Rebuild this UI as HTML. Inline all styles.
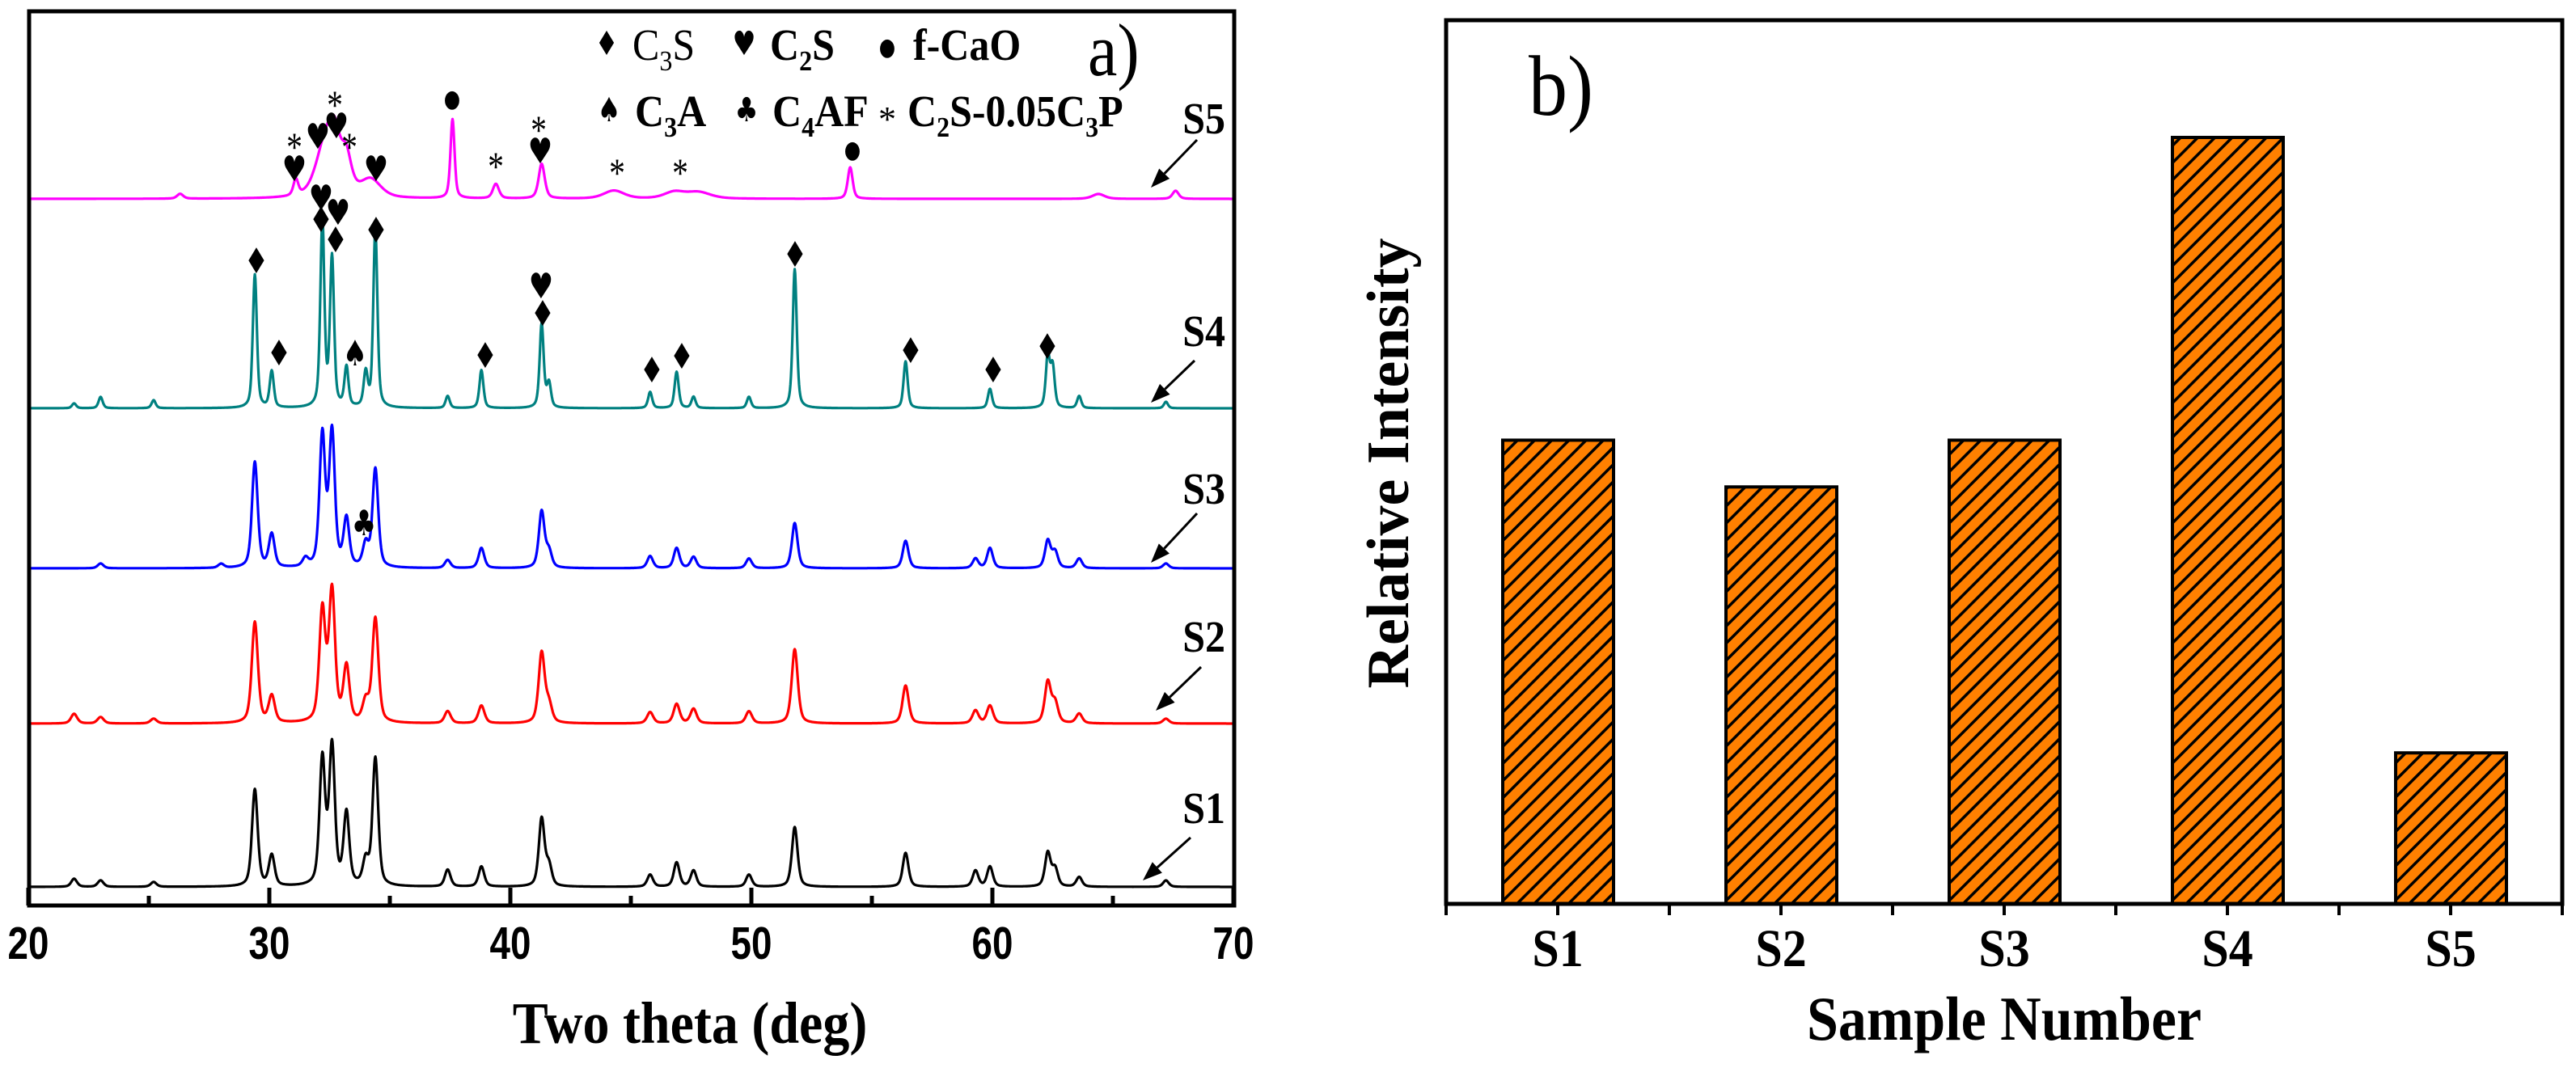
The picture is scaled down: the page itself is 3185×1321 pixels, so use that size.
<!DOCTYPE html>
<html><head><meta charset="utf-8"><style>
html,body{margin:0;padding:0;background:#fff;}
svg{display:block;}
text{font-family:"Liberation Serif","DejaVu Serif",serif;}
</style></head><body>
<svg id="fig" width="3185" height="1321" viewBox="0 0 3185 1321" xmlns="http://www.w3.org/2000/svg">
<defs>
<pattern id="hatch" patternUnits="userSpaceOnUse" width="15" height="15" patternTransform="rotate(45)">
<rect width="15" height="15" fill="#FF8000"/>
<rect x="0" y="0" width="3.5" height="15" fill="#000"/>
</pattern>
</defs>
<g id="panelA"></g>
<g id="panelB"></g>
</svg>
<script>
// ---------- Panel a data ----------
const sampleNames = ["S1","S2","S3","S4","S5"];
const s1Pos = [21.9,23.0,25.2,29.4,30.1,32.2,32.6,33.2,34.0,34.4,37.4,38.8,41.3,41.6,45.8,46.9,47.6,49.9,51.8,56.4,59.3,59.9,62.3,62.6,63.6,67.2];
const s1Hgt = [10,8,6,120,38,156,171,89,30,158,21,25,84,25,15,30,20,15,74,42,20,25,42,22,12,8];
const s2Pos = [21.9,23.0,25.2,29.4,30.1,32.2,32.6,33.2,34.0,34.4,37.4,38.8,41.3,41.6,45.8,46.9,47.6,49.9,51.8,56.4,59.3,59.9,62.3,62.6,63.6,67.2];
const s2Hgt = [12,8,6,125,33,138,161,68,25,129,15,22,87,22,14,24,18,15,92,47,16,22,51,25,12,6];
const s3Pos = [23.0,28.0,31.5,29.4,30.1,32.2,32.6,33.2,34.0,34.4,37.4,38.8,41.3,41.6,45.8,46.9,47.6,49.9,51.8,56.4,59.3,59.9,62.3,62.6,63.6,67.2];
const s3Hgt = [6,5,10,131,41,163,166,59,28,122,10,25,70,20,15,25,14,12,56,34,12,25,34,20,12,6];
const s4Pos = [21.9,23.0,25.2,29.4,30.1,32.2,32.6,33.2,34.0,34.4,37.4,38.8,41.3,41.6,45.8,46.9,47.6,49.9,51.8,56.4,59.9,62.3,62.5,63.6,67.2];
const s4Hgt = [6,14,10,165,45,231,184,49,42,222,15,47,104,30,20,45,14,14,172,58,24,64,50,15,8];
const s5Pos = [26.3,31.1,32.3,32.7,33.2,34.2,37.6,39.4,41.3,44.3,46.8,47.8,54.1,64.4,67.6];
const s5Hgt = [6,20,62,60,44,22,98,18,43,10,8,8,39,6,10];
const s5Wid = [0.15,0.12,0.45,0.3,0.25,0.5,0.1,0.15,0.15,0.5,0.5,0.6,0.12,0.3,0.15];
const xTicks = [20,30,40,50,60,70];
const xMinor = [25,35,45,55,65];

// ---------- Panel b data ----------
const barCats = ["S1","S2","S3","S4","S5"];
const barVals = [0.605, 0.544, 0.605, 1.0, 0.197];

const NS = "http://www.w3.org/2000/svg";
function mk(tag, attrs, parent){
  const e = document.createElementNS(NS, tag);
  for (const k in attrs) e.setAttribute(k, attrs[k]);
  parent.appendChild(e);
  return e;
}
const A = document.getElementById("panelA");
const B = document.getElementById("panelB");

const aL = 36, aR = 1526, aT = 14, aBt = 1120;
const xa = v => 35 + (v - 20) * (1490 / 50);
const baselines = [1097, 895, 703, 505, 246];
const colors = ["#000000","#FF0000","#0000FF","#008080","#FF00FF"];
const posArr = [s1Pos, s2Pos, s3Pos, s4Pos, s5Pos];
const hgtArr = [s1Hgt, s2Hgt, s3Hgt, s4Hgt, s5Hgt];
const defW = [0.14, 0.15, 0.14, 0.1, 0.15];

for (let s = 0; s < 5; s++) {
  const P = posArr[s], H = hgtArr[s];
  let d = "";
  for (let t = 20; t <= 70.0001; t += 0.02) {
    let y = 0;
    for (let k = 0; k < P.length; k++) {
      const w = (s === 4) ? s5Wid[k] : defW[s];
      const u = (t - P[k]) / w;
      y += H[k] * (0.5 / (1 + u * u) + 0.5 * Math.exp(-u * u * 0.693));
    }
    d += (d ? "L" : "M") + xa(t).toFixed(1) + "," + (baselines[s] - y).toFixed(1);
  }
  const p = mk("path", {d: d, fill: "none", stroke: colors[s], "stroke-width": 3.2, "stroke-linejoin": "round"}, A);
  
  
}

const fa = mk("rect", {x: aL, y: aT, width: aR - aL, height: aBt - aT, fill: "none", stroke: "#000", "stroke-width": 5}, A);



xTicks.forEach(v => {
  const l = mk("line", {x1: xa(v), x2: xa(v), y1: aBt, y2: aBt - 22, stroke: "#000", "stroke-width": 5}, A);
  
  
  const t = mk("text", {transform: "translate(" + xa(v) + ",1186) scale(0.88,1.08)", "text-anchor": "middle", "font-size": 52, "font-weight": "bold", style: "font-family:'Liberation Sans',sans-serif"}, A);
  t.textContent = v;
  
  
});
xMinor.forEach(v => {
  const l = mk("line", {x1: xa(v), x2: xa(v), y1: aBt, y2: aBt - 12, stroke: "#000", "stroke-width": 5}, A);
  
  
});
const xtA = mk("text", {transform: "translate(853,1290) scale(1,1.1)", "text-anchor": "middle", "font-size": 66, "font-weight": "bold"}, A);
xtA.textContent = "Two theta (deg)";



const la = mk("text", {transform: "translate(1345,93) scale(1,1.12)", "font-size": 82}, A);
la.textContent = "a)";



const labY = [1018, 806, 623, 428, 165];
const arr = [[1472,1036,1413,1089],[1485,825,1429,879],[1480,635,1423,696],[1477,446,1423,498],[1480,173,1423,232]];
for (let s = 0; s < 5; s++) {
  const t = mk("text", {transform: "translate(1515," + labY[s] + ") scale(1,1.1)", "text-anchor": "end", "font-size": 50, "font-weight": "bold"}, A);
  t.textContent = sampleNames[s];
  
  
  const [x1,y1,x2,y2] = arr[s];
  const dx = x2 - x1, dy = y2 - y1, L = Math.hypot(dx, dy), ux = dx / L, uy = dy / L;
  const bx = x2 - ux * 24, by = y2 - uy * 24;
  const g = mk("g", {}, A);
  
  
  mk("line", {x1: x1, y1: y1, x2: bx, y2: by, stroke: "#000", "stroke-width": 3}, g);
  mk("polygon", {points: x2 + "," + y2 + " " + (bx - uy * 9) + "," + (by + ux * 9) + " " + (bx + uy * 9) + "," + (by - ux * 9), fill: "#000"}, g);
}

const markers = [
 ["*",364,185],["♥",364,222],["♥",393,182],["♥",416,169],["*",414,133],["*",432,185],["♥",465,222],["●",559,134],
 ["*",613,209],["*",666,164],["♥",668,200],["*",763,217],["*",841,217],["●",1054,197],
 ["♥",397,258],["♦",397,285],["♥",418,276],["♦",415,310],["♦",465,298],["♦",317,336],["♦",345,450],["♠",439,450],
 ["♦",600,453],["♥",669,367],["♦",671,401],["♦",806,471],["♦",843,454],["♦",983,328],["♦",1126,447],["♦",1228,471],["♦",1295,442],
 ["♣",450,660]
];
markers.forEach(m => {
  const isStar = m[0] === "*", isDot = m[0] === "●";
  const fs = isStar ? 44 : (isDot ? 26 : 38);
  const t = mk("text", {transform: "translate(" + m[1] + "," + (m[2] + (isStar ? 14 : (isDot ? -2 : 2))) + ") scale(0.9,1.15)", "text-anchor": "middle", "font-size": fs, style: isStar ? "" : "font-family:'DejaVu Sans',sans-serif"}, A);
  t.textContent = m[0];
  
  
});

const legend = [
 ["♦", 750, 74, "C", "3", "S", false],
 ["♥", 920, 74, "C", "2", "S", true],
 ["●", 1097, 74, "f-CaO", "", "", true],
 ["♠", 753, 156, "C", "3", "A", true],
 ["♣", 923, 156, "C", "4", "AF", true]
];
legend.forEach(l => {
  const g = mk("g", {}, A);
  
  
  const s = mk("text", {transform: "translate(" + l[1] + "," + (l[2] - 6) + ") scale(0.9,1.15)", "text-anchor": "middle", "font-size": l[0] === "●" ? 26 : 36, style: "font-family:'DejaVu Sans',sans-serif"}, g);
  s.textContent = l[0];
  const t = mk("text", {transform: "translate(" + (l[1] + 32) + "," + l[2] + ") scale(1,1.1)", "font-size": 50, "font-weight": l[6] ? "bold" : "normal"}, g);
  const a = document.createElementNS(NS, "tspan"); a.textContent = l[3]; t.appendChild(a);
  if (l[4]) {
    const sub = mk("tspan", {dy: 12, "font-size": 32}, t); sub.textContent = l[4];
    const r = mk("tspan", {dy: -12}, t); r.textContent = l[5];
  }
});
{
  const g = mk("g", {}, A);
  
  
  const s = mk("text", {x: 1097, y: 162, "text-anchor": "middle", "font-size": 44}, g);
  s.textContent = "*";
  const t = mk("text", {transform: "translate(1122,156) scale(1,1.1)", "font-size": 50, "font-weight": "bold"}, g);
  const parts = [["C",0,50],["2",12,32],["S-0.05C",-12,50],["3",12,32],["P",-12,50]];
  parts.forEach(p => { const sp = mk("tspan", {dy: p[1], "font-size": p[2]}, t); sp.textContent = p[0]; });
}

// ---------- Panel b ----------
const bL = 1788, bR = 3168, bT = 25, bBt = 1118;
const band = (bR - bL) / barCats.length;
const yb = v => bBt - v * (bBt - 170);
barCats.forEach((c, i) => {
  const cx = bL + (i + 0.5) * band;
  const r = mk("rect", {x: cx - 68, y: yb(barVals[i]), width: 137, height: bBt - yb(barVals[i]), fill: "url(#hatch)", stroke: "#000", "stroke-width": 4}, B);
  
  
  const tk = mk("line", {x1: cx, x2: cx, y1: bBt, y2: bBt + 14, stroke: "#000", "stroke-width": 4}, B);
  
  
  const lbl = mk("text", {transform: "translate(" + cx + ",1195) scale(1,1.1)", "text-anchor": "middle", "font-size": 60, "font-weight": "bold"}, B);
  lbl.textContent = c;
  
  
});
for (let i = 0; i <= barCats.length; i++) {
  const x = bL + i * band;
  const tk = mk("line", {x1: x, x2: x, y1: bBt, y2: bBt + 14, stroke: "#000", "stroke-width": 4}, B);
  
  
}
const fb = mk("rect", {x: bL, y: bT, width: bR - bL, height: bBt - bT, fill: "none", stroke: "#000", "stroke-width": 5}, B);


const xtB = mk("text", {transform: "translate(2478,1286) scale(1,1.1)", "text-anchor": "middle", "font-size": 70, "font-weight": "bold"}, B);
xtB.textContent = "Sample Number";


const ytB = mk("text", {transform: "translate(1741,573) rotate(-90)", "text-anchor": "middle", "font-size": 74, "font-weight": "bold"}, B);
ytB.textContent = "Relative Intensity";


const lb = mk("text", {transform: "translate(1890,142) scale(1,1.1)", "font-size": 96}, B);
lb.textContent = "b)";


</script>
</body></html>
